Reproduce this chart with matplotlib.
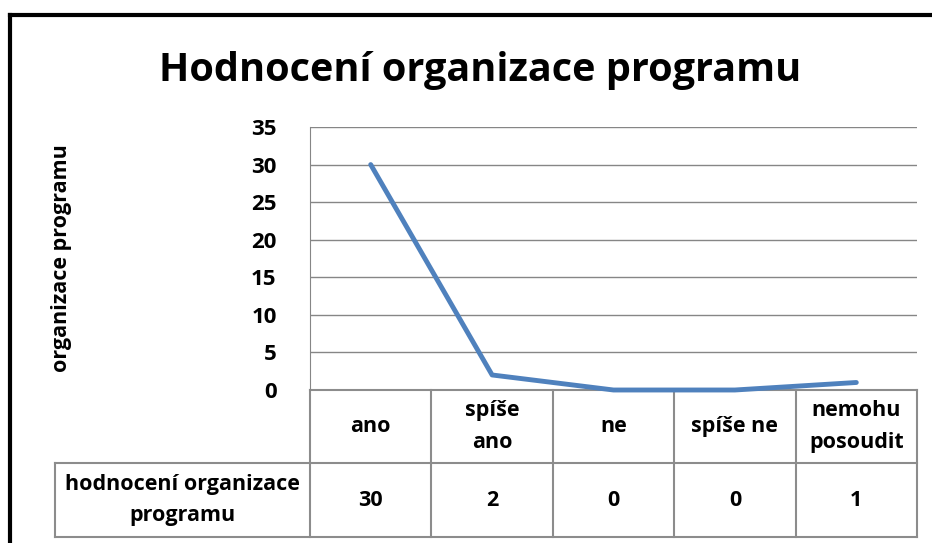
import matplotlib.pyplot as plt
from matplotlib.lines import Line2D

kategorie = ['ano', 'spíše\nano', 'ne', 'spíše ne', 'nemohu\nposoudit']
hodnoty = [30, 2, 0, 0, 1]
nazev_rady = 'hodnocení organizace\nprogramu'
yticky = [0, 5, 10, 15, 20, 25, 30, 35]

plt.rcParams['font.family'] = ['Open Sans', 'DejaVu Sans']
plt.rcParams['font.weight'] = 'bold'

W, H = 932, 543
fig = plt.figure(figsize=(W / 100, H / 100), dpi=100)

# ramecek grafu (jen horni a leva hrana jsou videt)
fig.add_artist(Line2D([10 / W, 10 / W], [0, 1 - 15 / H], color='black', lw=3, transform=fig.transFigure))
fig.add_artist(Line2D([10 / W, 1], [1 - 15 / H, 1 - 15 / H], color='black', lw=3, transform=fig.transFigure))

x0, x1, ytop, ybot = 310, 917, 127, 390
ax = fig.add_axes([x0 / W, 1 - ybot / H, (x1 - x0) / W, (ybot - ytop) / H])

x = list(range(len(kategorie)))
ax.plot(x, hodnoty, color='#4F81BD', lw=3.5, solid_capstyle='round', zorder=3, clip_on=False)
ax.set_xlim(-0.5, len(kategorie) - 0.5)
ax.set_ylim(0, 35)
ax.set_yticks(yticky)
ax.set_yticklabels([str(v) for v in yticky], fontsize=16, fontweight='bold')
ax.tick_params(axis='y', length=0, pad=24)
ax.set_xticks([])
ax.grid(axis='y', color='#868686', lw=1)
for s in ['top', 'right', 'bottom']:
    ax.spines[s].set_visible(False)
ax.spines['left'].set_color('#868686')

fig.text(480 / W, 1 - 71 / H, 'Hodnocení organizace programu', fontsize=28.5, fontweight='bold',
         ha='center', va='center')
fig.text(62 / W, 1 - 258 / H, 'organizace programu', fontsize=15.5, fontweight='bold',
         rotation=90, ha='center', va='center')

# tabulka dat pod grafem
h = ybot - ytop
def ay(py):
    return -(py - ybot) / h

tr = ax.get_xaxis_transform()
siv = '#8c8c8c'
r1, r2, r3 = ay(390), ay(463), ay(537)
xleft = -0.5 - (x0 - 55) / ((x1 - x0) / len(kategorie))
for i in range(len(kategorie) + 1):
    ax.add_line(Line2D([i - 0.5, i - 0.5], [r1, r3], color=siv, lw=1.5, transform=tr, clip_on=False))
ax.add_line(Line2D([xleft, xleft], [r2, r3], color=siv, lw=1.5, transform=tr, clip_on=False))
ax.add_line(Line2D([-0.5, len(kategorie) - 0.5], [r1, r1], color=siv, lw=1.5, transform=tr, clip_on=False))
ax.add_line(Line2D([xleft, len(kategorie) - 0.5], [r2, r2], color=siv, lw=1.5, transform=tr, clip_on=False))
ax.add_line(Line2D([xleft, len(kategorie) - 0.5], [r3, r3], color=siv, lw=1.5, transform=tr, clip_on=False))

for i, (k, v) in enumerate(zip(kategorie, hodnoty)):
    ax.text(i, (r1 + r2) / 2, k, transform=tr, ha='center', va='center', fontsize=15.5,
            fontweight='bold', linespacing=1.65)
    ax.text(i, (r2 + r3) / 2, str(v), transform=tr, ha='center', va='center', fontsize=15.5,
            fontweight='bold')
ax.text((xleft - 0.5) / 2, (r2 + r3) / 2, nazev_rady, transform=tr, ha='center', va='center',
        fontsize=15.5, fontweight='bold', linespacing=1.65)

fig.savefig('out.png', dpi=100, facecolor='white')
